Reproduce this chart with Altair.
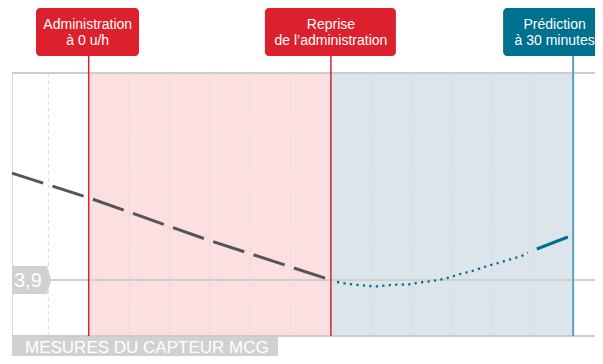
import altair as alt
import pandas as pd

# ---------------- data ----------------
x_domain = [-39.5, 32.71]         # minutes relative to resumption
y_domain = [2.9, 7.6]             # mmol/L

past_t = [-39.5, -30.0, -15.5, 0.0]
past_v = [5.81, 5.37, 4.63, 3.90]

pred_t = [0.76, 2.24, 3.85, 5.59, 7.18, 9.55, 11.16, 12.77, 14.38, 16.0,
          17.5, 19.1, 20.7, 22.2, 23.8, 24.4]
pred_v = [3.865, 3.829, 3.806, 3.788, 3.811, 3.824, 3.860, 3.888, 3.936, 4.008,
          4.062, 4.138, 4.204, 4.270, 4.342, 4.389]

final_t = [25.5, 29.35]
final_v = [4.455, 4.669]

phase_start = [-30, 0]
phase_end = [0, 30]

event_t = [-30, 0, 30]
event_lines = [["Administration", "à 0 u/h"],
               ["Reprise", "de l’administration"],
               ["Prédiction", "à 30 minutes"]]

grid_t = [-35, -30, -25, -20, -15, -10, -5, 0, 5, 10, 15, 20, 25, 30]
threshold = 3.9
threshold_label = "3,9"
footer = "MESURES DU CAPTEUR MCG"

# ---------------- styles ----------------
PW, PH = 583, 263
FONT = "Liberation Sans"
RED = "#dc212d"
BLUE = "#00708f"
BLUE_LINE = "#5ba2b9"
phase_color = ["#fce0e1", "#dce5eb"]
event_box_color = [RED, RED, BLUE]
event_line_color = [RED, RED, BLUE_LINE]
event_line_width = [1.5, 1.5, 2]
box_left = [-52.7, -66, -70]
box_right = [50.3, 65, None]
text_dx = [-1, 0, -18.5]

xs = alt.Scale(domain=x_domain, nice=False, zero=False)
ys = alt.Scale(domain=y_domain, nice=False, zero=False)


def XD(v):
    return alt.XDatum(v, scale=xs, axis=None)


def YD(v):
    return alt.YDatum(v, scale=ys, axis=None)


layers = []

# phases
for s, e, c in zip(phase_start, phase_end, phase_color):
    layers.append(alt.Chart().mark_rect(color=c).encode(
        x=XD(s), x2=alt.datum(e), y=YD(y_domain[0]), y2=alt.datum(y_domain[1])))

# vertical dashed grid
grid_df = pd.DataFrame({"t": grid_t})
layers.append(alt.Chart(grid_df).mark_rule(color="#d9d9d9", strokeWidth=1, strokeDash=[4, 3]).encode(
    x=alt.X("t:Q", scale=xs, axis=None), y=YD(y_domain[0]), y2=alt.datum(y_domain[1])))

# horizontal lines: threshold, top and bottom
for v, c in [(threshold, "#d0d0d0"), (y_domain[0], "#cccccc"), (y_domain[1], "#cccccc")]:
    layers.append(alt.Chart().mark_rule(color=c, strokeWidth=2).encode(
        y=YD(v), x=alt.value(0), x2=alt.value(PW)))

# data lines
past_df = pd.DataFrame({"t": past_t, "v": past_v})
pred_df = pd.DataFrame({"t": pred_t, "v": pred_v})
final_df = pd.DataFrame({"t": final_t, "v": final_v})
enc = dict(x=alt.X("t:Q", scale=xs, axis=None), y=alt.Y("v:Q", scale=ys, axis=None))
layers.append(alt.Chart(past_df).mark_line(color="#555555", strokeWidth=3,
                                           strokeDash=[32.7, 9.8]).encode(**enc))
layers.append(alt.Chart(pred_df).mark_line(color=BLUE, strokeWidth=2.3, interpolate="monotone",
                                           strokeDash=[2.2, 4.3]).encode(**enc))
layers.append(alt.Chart(final_df).mark_line(color=BLUE, strokeWidth=3).encode(**enc))

# event markers
for i, t in enumerate(event_t):
    layers.append(alt.Chart().mark_rule(color=event_line_color[i],
                                        strokeWidth=event_line_width[i]).encode(
        x=XD(t), y=alt.value(-17), y2=alt.value(PH)))
    if box_right[i] is None:
        box = alt.Chart().mark_rect(color=event_box_color[i], xOffset=box_left[i],
                                    cornerRadiusTopLeft=4, cornerRadiusBottomLeft=4).encode(
            x=XD(t), x2=alt.value(PW), y=alt.value(-65), y2=alt.value(-17))
    else:
        box = alt.Chart().mark_rect(color=event_box_color[i], xOffset=box_left[i],
                                    x2Offset=box_right[i], cornerRadius=4).encode(
            x=XD(t), x2=alt.datum(t), y=alt.value(-65), y2=alt.value(-17))
    layers.append(box)
    for line, yy in zip(event_lines[i], [-44, -28.5]):
        layers.append(alt.Chart().mark_text(color="white", font=FONT, fontSize=14,
                                            align="center", baseline="alphabetic",
                                            dx=text_dx[i]).encode(
            x=XD(t), y=alt.value(yy), text=alt.value(line)))

# threshold tag
TAG = "#d1d1d3"
layers.append(alt.Chart().mark_rect(color=TAG, yOffset=-14, y2Offset=14).encode(
    x=alt.value(0), x2=alt.value(35), y=YD(threshold), y2=alt.datum(threshold)))
layers.append(alt.Chart().mark_point(shape="M 0 -1 L 0.3 0 L 0 1 Z", size=784, filled=True,
                                     color=TAG, opacity=1, strokeWidth=0).encode(
    x=alt.value(35), y=YD(threshold)))
layers.append(alt.Chart().mark_text(color="white", font=FONT, fontSize=20, align="left",
                                    baseline="middle", dy=1).encode(
    x=alt.value(2), y=YD(threshold), text=alt.value(threshold_label)))

# footer label
layers.append(alt.Chart().mark_rect(color=TAG).encode(
    x=alt.value(0), x2=alt.value(266), y=alt.value(264), y2=alt.value(283)))
layers.append(alt.Chart().mark_text(color="white", font=FONT, fontSize=17, align="left",
                                    baseline="alphabetic").encode(
    x=alt.value(13), y=alt.value(280), text=alt.value(footer)))

chart = alt.layer(*layers).properties(
    width=PW, height=PH,
    autosize=alt.AutoSizeParams(type="none"),
    padding={"left": 4, "top": 65, "right": 0, "bottom": 20},
    background="white",
).configure_view(fill="#f7f7f7", strokeWidth=0).configure(font=FONT)

chart.save("out.html", embed_options={"renderer": "svg", "actions": False})
